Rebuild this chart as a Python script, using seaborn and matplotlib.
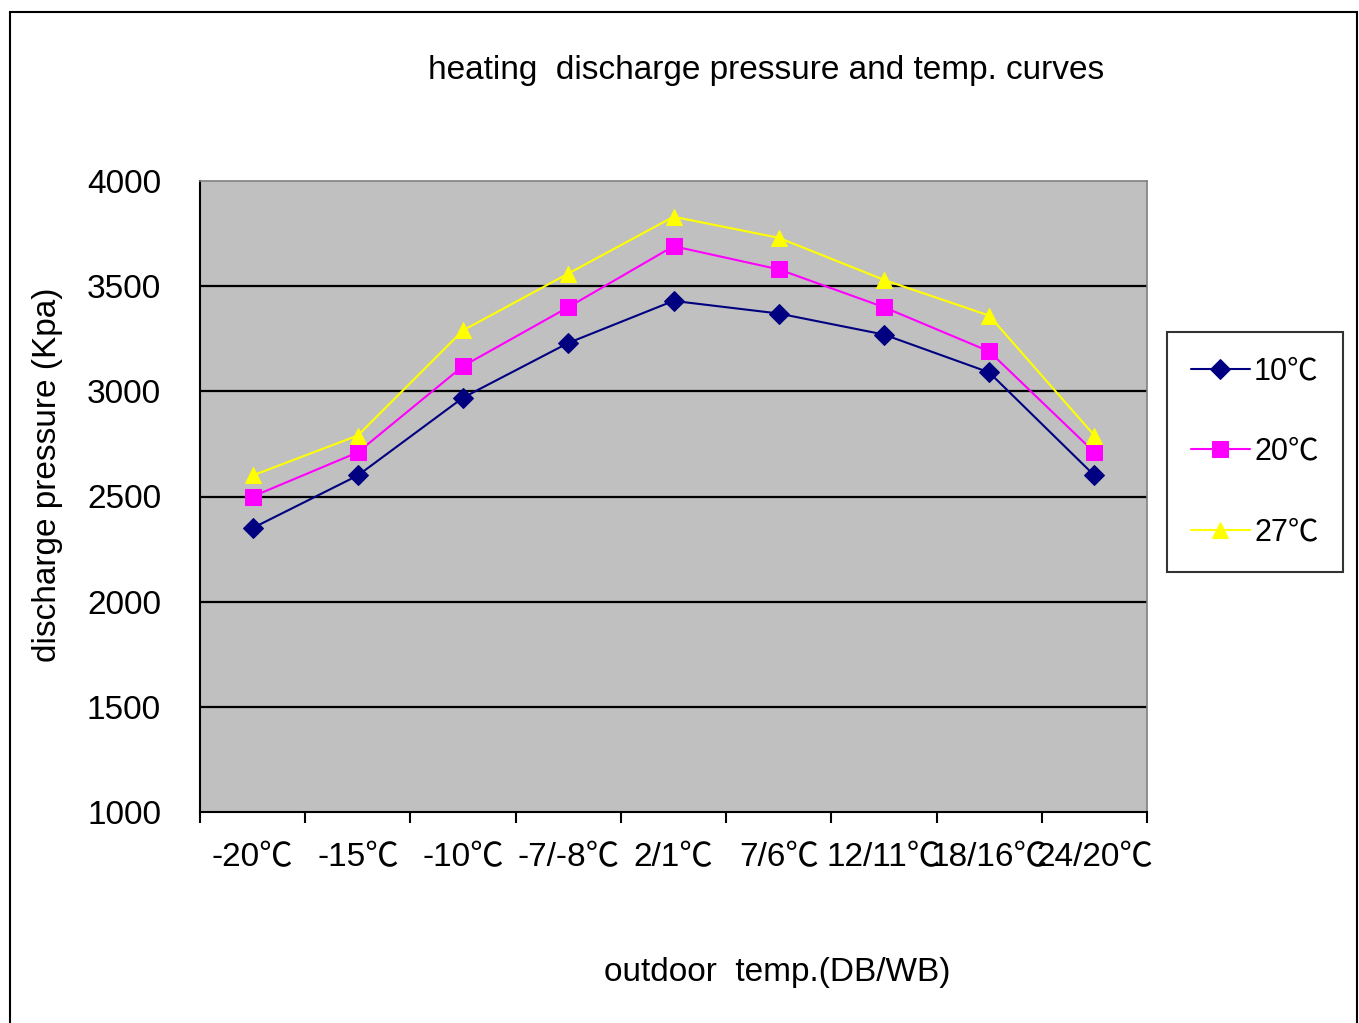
import matplotlib
matplotlib.use("Agg")
import matplotlib.pyplot as plt
import seaborn as sns
import pandas as pd
from matplotlib.patches import Rectangle

categories = ["-20℃", "-15℃", "-10℃", "-7/-8℃", "2/1℃", "7/6℃", "12/11℃", "18/16℃", "24/20℃"]
p_10 = [2350, 2600, 2970, 3230, 3430, 3370, 3270, 3090, 2600]
p_20 = [2500, 2710, 3120, 3400, 3690, 3580, 3400, 3190, 2710]
p_27 = [2600, 2790, 3290, 3560, 3830, 3730, 3530, 3360, 2790]
series_names = ["10℃", "20℃", "27℃"]
y_ticks = [1000, 1500, 2000, 2500, 3000, 3500, 4000]

sns.set_theme(style="white")
plt.rcParams["font.family"] = ["Liberation Sans", "Noto Sans CJK SC", "DejaVu Sans"]
plt.rcParams.update({"text.color": "black", "xtick.color": "black", "ytick.color": "black",
                     "axes.labelcolor": "black"})

FS = 24

fig = plt.figure(figsize=(13.59, 10.23), dpi=100)
ax = fig.add_axes([200 / 1359, 1 - 812 / 1023, (1147 - 200) / 1359, (812 - 181) / 1023])
ax.set_facecolor("#c0c0c0")

styles = [
    dict(color="#000080", marker="D", markersize=10),
    dict(color="#ff00ff", marker="s", markersize=11),
    dict(color="#ffff00", marker="^", markersize=12),
]

for name, vals, st in zip(series_names, [p_10, p_20, p_27], styles):
    df = pd.DataFrame({"x": range(len(categories)), "y": vals})
    sns.lineplot(data=df, x="x", y="y", ax=ax, color=st["color"], marker=st["marker"],
                 markersize=st["markersize"], markeredgecolor=st["color"], linewidth=1.5,
                 label=name, zorder=3)

ax.set_xlim(-0.5, len(categories) - 0.5)
ax.set_ylim(1000, 4000)
ax.set_yticks(y_ticks)
ax.set_yticklabels([str(v) for v in y_ticks], fontsize=FS)
ax.tick_params(axis="y", length=0, pad=28)

ax.set_xticks(range(len(categories)))
ax.set_xticklabels(categories, fontsize=FS)
ax.tick_params(axis="x", which="major", length=0, pad=22)
ax.set_xticks([i - 0.5 for i in range(len(categories) + 1)], minor=True)
ax.tick_params(axis="x", which="minor", length=8, width=1.5, color="black", direction="out", bottom=True)

for v in y_ticks[1:-1]:
    ax.axhline(v, color="black", linewidth=1.6, zorder=1)

for s in ["left", "bottom"]:
    ax.spines[s].set_color("black")
    ax.spines[s].set_linewidth(1.5)
for s in ["top", "right"]:
    ax.spines[s].set_color("#808080")
    ax.spines[s].set_linewidth(1.2)

ax.set_xlabel("")
ax.set_ylabel("")

leg = ax.legend(loc="upper left", bbox_to_anchor=((1167 - 200) / (1147 - 200), 1 - (332 - 181) / (812 - 181)),
                fontsize=22, frameon=True, fancybox=False, edgecolor="black",
                handlelength=1.9, labelspacing=1.65, borderpad=0.8, handletextpad=0.15,
                borderaxespad=0)
leg.get_frame().set_linewidth(1.5)

fig.text(766 / 1359, 1 - 71 / 1023, "heating  discharge pressure and temp. curves",
         ha="center", va="center", fontsize=FS)
fig.text(777 / 1359, 1 - 973 / 1023, "outdoor  temp.(DB/WB)", ha="center", va="center", fontsize=FS)
fig.text(48 / 1359, 1 - 475 / 1023, "discharge pressure (Kpa)", ha="center", va="center",
         rotation=90, fontsize=FS)

fig.patches.append(Rectangle((10 / 1359, -0.01), (1357 - 10) / 1359, 1 - 12 / 1023 + 0.01,
                             transform=fig.transFigure, fill=False, edgecolor="black", linewidth=1.5))

fig.savefig("out.png", dpi=100, facecolor="white")
